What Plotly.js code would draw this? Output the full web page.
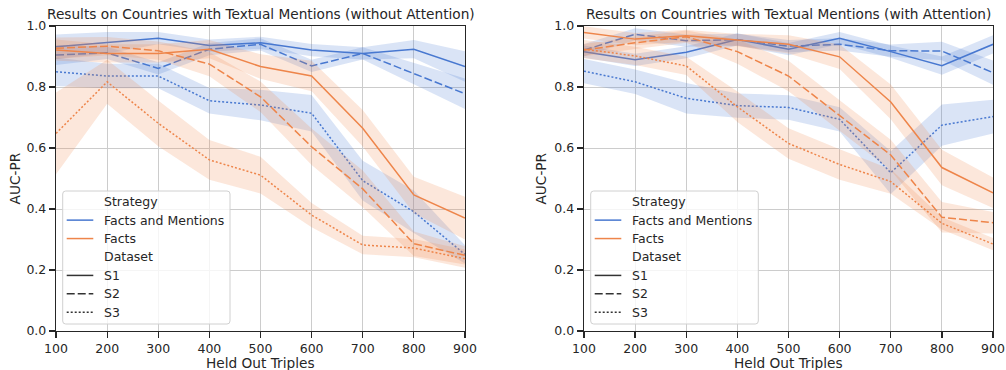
<!DOCTYPE html>
<html>
<head>
<meta charset="utf-8">
<script src="https://cdn.plot.ly/plotly-3.0.1.min.js"></script>
<style>html,body{margin:0;padding:0;background:#fff;}#chart{width:1006px;height:370px;}</style>
</head>
<body>
<div id="chart"></div>
<script>
// ---- data ----
const heldOut = [100, 200, 300, 400, 500, 600, 700, 800, 900];

// Left: without attention
const left_fm_s1 = [0.932, 0.945, 0.960, 0.936, 0.945, 0.921, 0.910, 0.924, 0.867];
const left_fm_s2 = [0.905, 0.912, 0.861, 0.924, 0.940, 0.869, 0.910, 0.845, 0.778];
const left_fm_s3 = [0.850, 0.836, 0.836, 0.755, 0.741, 0.714, 0.493, 0.391, 0.251];
const left_f_s1  = [0.921, 0.910, 0.910, 0.924, 0.867, 0.836, 0.665, 0.446, 0.370];
const left_f_s2  = [0.927, 0.934, 0.919, 0.875, 0.768, 0.604, 0.466, 0.286, 0.248];
const left_f_s3  = [0.648, 0.817, 0.681, 0.561, 0.511, 0.380, 0.282, 0.272, 0.237];
const left_fm_s1_err = [0.04, 0.035, 0.02, 0.02, 0.02, 0.02, 0.02, 0.03, 0.05];
const left_fm_s2_err = [0.033, 0.02, 0.02, 0.02, 0.02, 0.02, 0.02, 0.035, 0.05];
const left_fm_s3_err = [0.047, 0.04, 0.04, 0.042, 0.05, 0.06, 0.065, 0.07, 0.03];
const left_f_s1_err  = [0.035, 0.03, 0.03, 0.03, 0.04, 0.05, 0.06, 0.06, 0.07];
const left_f_s2_err  = [0.035, 0.03, 0.03, 0.04, 0.05, 0.06, 0.06, 0.04, 0.03];
const left_f_s3_err  = [0.134, 0.072, 0.075, 0.065, 0.06, 0.04, 0.03, 0.03, 0.03];

// Right: with attention
const right_fm_s1 = [0.916, 0.889, 0.914, 0.956, 0.924, 0.960, 0.916, 0.870, 0.940];
const right_fm_s2 = [0.921, 0.973, 0.952, 0.955, 0.934, 0.940, 0.919, 0.918, 0.847];
const right_fm_s3 = [0.852, 0.817, 0.763, 0.739, 0.733, 0.694, 0.519, 0.675, 0.703];
const right_f_s1  = [0.979, 0.957, 0.968, 0.954, 0.940, 0.899, 0.751, 0.536, 0.453];
const right_f_s2  = [0.921, 0.945, 0.965, 0.916, 0.836, 0.708, 0.577, 0.373, 0.355];
const right_f_s3  = [0.924, 0.902, 0.869, 0.735, 0.615, 0.546, 0.490, 0.353, 0.285];
const right_fm_s1_err = [0.02, 0.02, 0.02, 0.02, 0.02, 0.02, 0.02, 0.03, 0.03];
const right_fm_s2_err = [0.02, 0.02, 0.02, 0.02, 0.02, 0.02, 0.02, 0.03, 0.04];
const right_fm_s3_err = [0.04, 0.04, 0.05, 0.04, 0.04, 0.04, 0.07, 0.068, 0.055];
const right_f_s1_err  = [0.02, 0.02, 0.02, 0.02, 0.03, 0.04, 0.057, 0.058, 0.05];
const right_f_s2_err  = [0.02, 0.02, 0.02, 0.04, 0.05, 0.05, 0.05, 0.05, 0.035];
const right_f_s3_err  = [0.03, 0.03, 0.03, 0.05, 0.05, 0.05, 0.04, 0.02, 0.02];

const strategies = ["Facts and Mentions", "Facts"];
const datasets = ["S1", "S2", "S3"];
const legendHeaders = ["Strategy", "Dataset"];
const xTicks = [100, 200, 300, 400, 500, 600, 700, 800, 900];
const yTicks = [0.0, 0.2, 0.4, 0.6, 0.8, 1.0];
const titles = ["Results on Countries with Textual Mentions (without Attention)",
                "Results on Countries with Textual Mentions (with Attention)"];
const xLabel = "Held Out Triples";
const yLabel = "AUC-PR";

// ---- styles ----
const W = 1006, H = 370;
const lineColors = {"Facts and Mentions": "#4878d0", "Facts": "#ee854a"};
const bandColors = {"Facts and Mentions": "rgba(72,120,208,0.2)", "Facts": "rgba(238,133,74,0.2)"};
const dashes = {"S1": "solid", "S2": "8px,3px", "S3": "2px,2px"};
const FONT = "DejaVu Sans, Verdana, sans-serif";
const px = x => x / W;
const py = y => 1 - y / H;

const panels = [
  {xa: "x", ya: "y", legendBox: [62.7, 230, 191, 324],
   series: [
     ["Facts and Mentions", "S1", left_fm_s1, left_fm_s1_err],
     ["Facts and Mentions", "S2", left_fm_s2, left_fm_s2_err],
     ["Facts and Mentions", "S3", left_fm_s3, left_fm_s3_err],
     ["Facts", "S1", left_f_s1, left_f_s1_err],
     ["Facts", "S2", left_f_s2, left_f_s2_err],
     ["Facts", "S3", left_f_s3, left_f_s3_err]]},
  {xa: "x2", ya: "y2", legendBox: [590.7, 758.3, 191, 324],
   series: [
     ["Facts and Mentions", "S1", right_fm_s1, right_fm_s1_err],
     ["Facts and Mentions", "S2", right_fm_s2, right_fm_s2_err],
     ["Facts and Mentions", "S3", right_fm_s3, right_fm_s3_err],
     ["Facts", "S1", right_f_s1, right_f_s1_err],
     ["Facts", "S2", right_f_s2, right_f_s2_err],
     ["Facts", "S3", right_f_s3, right_f_s3_err]]}
];

const traces = [];
const shapes = [];
const annotations = [];
const annFont = {family: FONT, size: 13.7, color: "#262626"};
const legFont = {family: FONT, size: 12.5, color: "#262626"};

panels.forEach(p => {
  p.series.forEach(([strat, ds, vals, err]) => {
    const up = vals.map((v, i) => v + err[i]);
    const lo = vals.map((v, i) => v - err[i]);
    traces.push({
      type: "scatter", mode: "lines", xaxis: p.xa, yaxis: p.ya,
      x: heldOut.concat(heldOut.slice().reverse()),
      y: up.concat(lo.slice().reverse()),
      fill: "toself", fillcolor: bandColors[strat],
      line: {width: 0, color: "rgba(0,0,0,0)"},
      hoverinfo: "skip", showlegend: false
    });
    traces.push({
      type: "scatter", mode: "lines", xaxis: p.xa, yaxis: p.ya,
      x: heldOut, y: vals,
      line: {color: lineColors[strat], width: 1.5, dash: dashes[ds]},
      name: strat + " " + ds, showlegend: false
    });
  });

  // legend (drawn in paper space)
  const [bx0, bx1, by0, by1] = p.legendBox;
  const r = 3;
  const P = (x, y) => px(x) + "," + py(y);
  const path = "M" + P(bx0 + r, by0) + " L" + P(bx1 - r, by0) + " Q" + P(bx1, by0) + " " + P(bx1, by0 + r) +
    " L" + P(bx1, by1 - r) + " Q" + P(bx1, by1) + " " + P(bx1 - r, by1) +
    " L" + P(bx0 + r, by1) + " Q" + P(bx0, by1) + " " + P(bx0, by1 - r) +
    " L" + P(bx0, by0 + r) + " Q" + P(bx0, by0) + " " + P(bx0 + r, by0) + " Z";
  shapes.push({type: "path", xref: "paper", yref: "paper", path: path, layer: "above",
    fillcolor: "rgba(255,255,255,0.8)", line: {color: "#d0d0d0", width: 1}});
  const entries = [[legendHeaders[0], null, null]]
    .concat(strategies.map(s => [s, lineColors[s], "solid"]))
    .concat([[legendHeaders[1], null, null]])
    .concat(datasets.map(d => [d, "#333333", dashes[d]]));
  entries.forEach(([nm, col, dash], i) => {
    const yc = by0 + 10.7 + i * 18.43;
    if (col) {
      shapes.push({type: "line", xref: "paper", yref: "paper", layer: "above",
        x0: px(bx0 + 4), x1: px(bx0 + 30.6), y0: py(yc), y1: py(yc),
        line: {color: col, width: 1.5, dash: dash}});
    }
    annotations.push({text: nm, xref: "paper", yref: "paper", x: px(bx0 + 39.5), y: py(yc),
      xanchor: "left", yanchor: "middle", showarrow: false, font: legFont});
  });
});

const axisCommon = {
  showline: true, mirror: true, linecolor: "#262626", linewidth: 1.25,
  ticks: "outside", ticklen: 6, tickwidth: 1.25, tickcolor: "#262626",
  showgrid: true, gridcolor: "#cccccc", gridwidth: 1, zeroline: false,
  tickfont: {family: FONT, size: 12.5, color: "#262626"}, fixedrange: true
};
const xAxis = (dom, anchor) => Object.assign({}, axisCommon, {
  domain: dom, anchor: anchor, range: [100, 900],
  tickmode: "array", tickvals: xTicks, ticktext: xTicks.map(String)
});
const yAxis = (anchor) => Object.assign({}, axisCommon, {
  domain: [0.1054, 0.9297], anchor: anchor, range: [0, 1.0],
  tickmode: "array", tickvals: yTicks, ticktext: yTicks.map(v => v.toFixed(1))
});

annotations.push(
  {text: titles[0], xref: "paper", yref: "paper", x: 0.2595, y: 0.962, xanchor: "center", yanchor: "middle", showarrow: false, font: annFont},
  {text: titles[1], xref: "paper", yref: "paper", x: 0.7838, y: 0.962, xanchor: "center", yanchor: "middle", showarrow: false, font: annFont},
  {text: xLabel, xref: "paper", yref: "paper", x: 0.2590, y: 0.0189, xanchor: "center", yanchor: "middle", showarrow: false, font: annFont},
  {text: xLabel, xref: "paper", yref: "paper", x: 0.7838, y: 0.0189, xanchor: "center", yanchor: "middle", showarrow: false, font: annFont},
  {text: yLabel, xref: "paper", yref: "paper", x: 0.0149, y: 0.5176, xanchor: "center", yanchor: "middle", textangle: -90, showarrow: false, font: annFont},
  {text: yLabel, xref: "paper", yref: "paper", x: 0.5378, y: 0.5176, xanchor: "center", yanchor: "middle", textangle: -90, showarrow: false, font: annFont}
);

const layout = {
  width: W, height: H,
  margin: {l: 0, r: 0, t: 0, b: 0},
  paper_bgcolor: "#ffffff", plot_bgcolor: "#ffffff",
  showlegend: false,
  xaxis: xAxis([0.0557, 0.4622], "y"),
  yaxis: yAxis("x"),
  xaxis2: xAxis([0.5805, 0.9871], "y2"),
  yaxis2: yAxis("x2"),
  shapes: shapes,
  annotations: annotations
};

Plotly.newPlot("chart", traces, layout, {displayModeBar: false, staticPlot: true});
</script>
</body>
</html>
